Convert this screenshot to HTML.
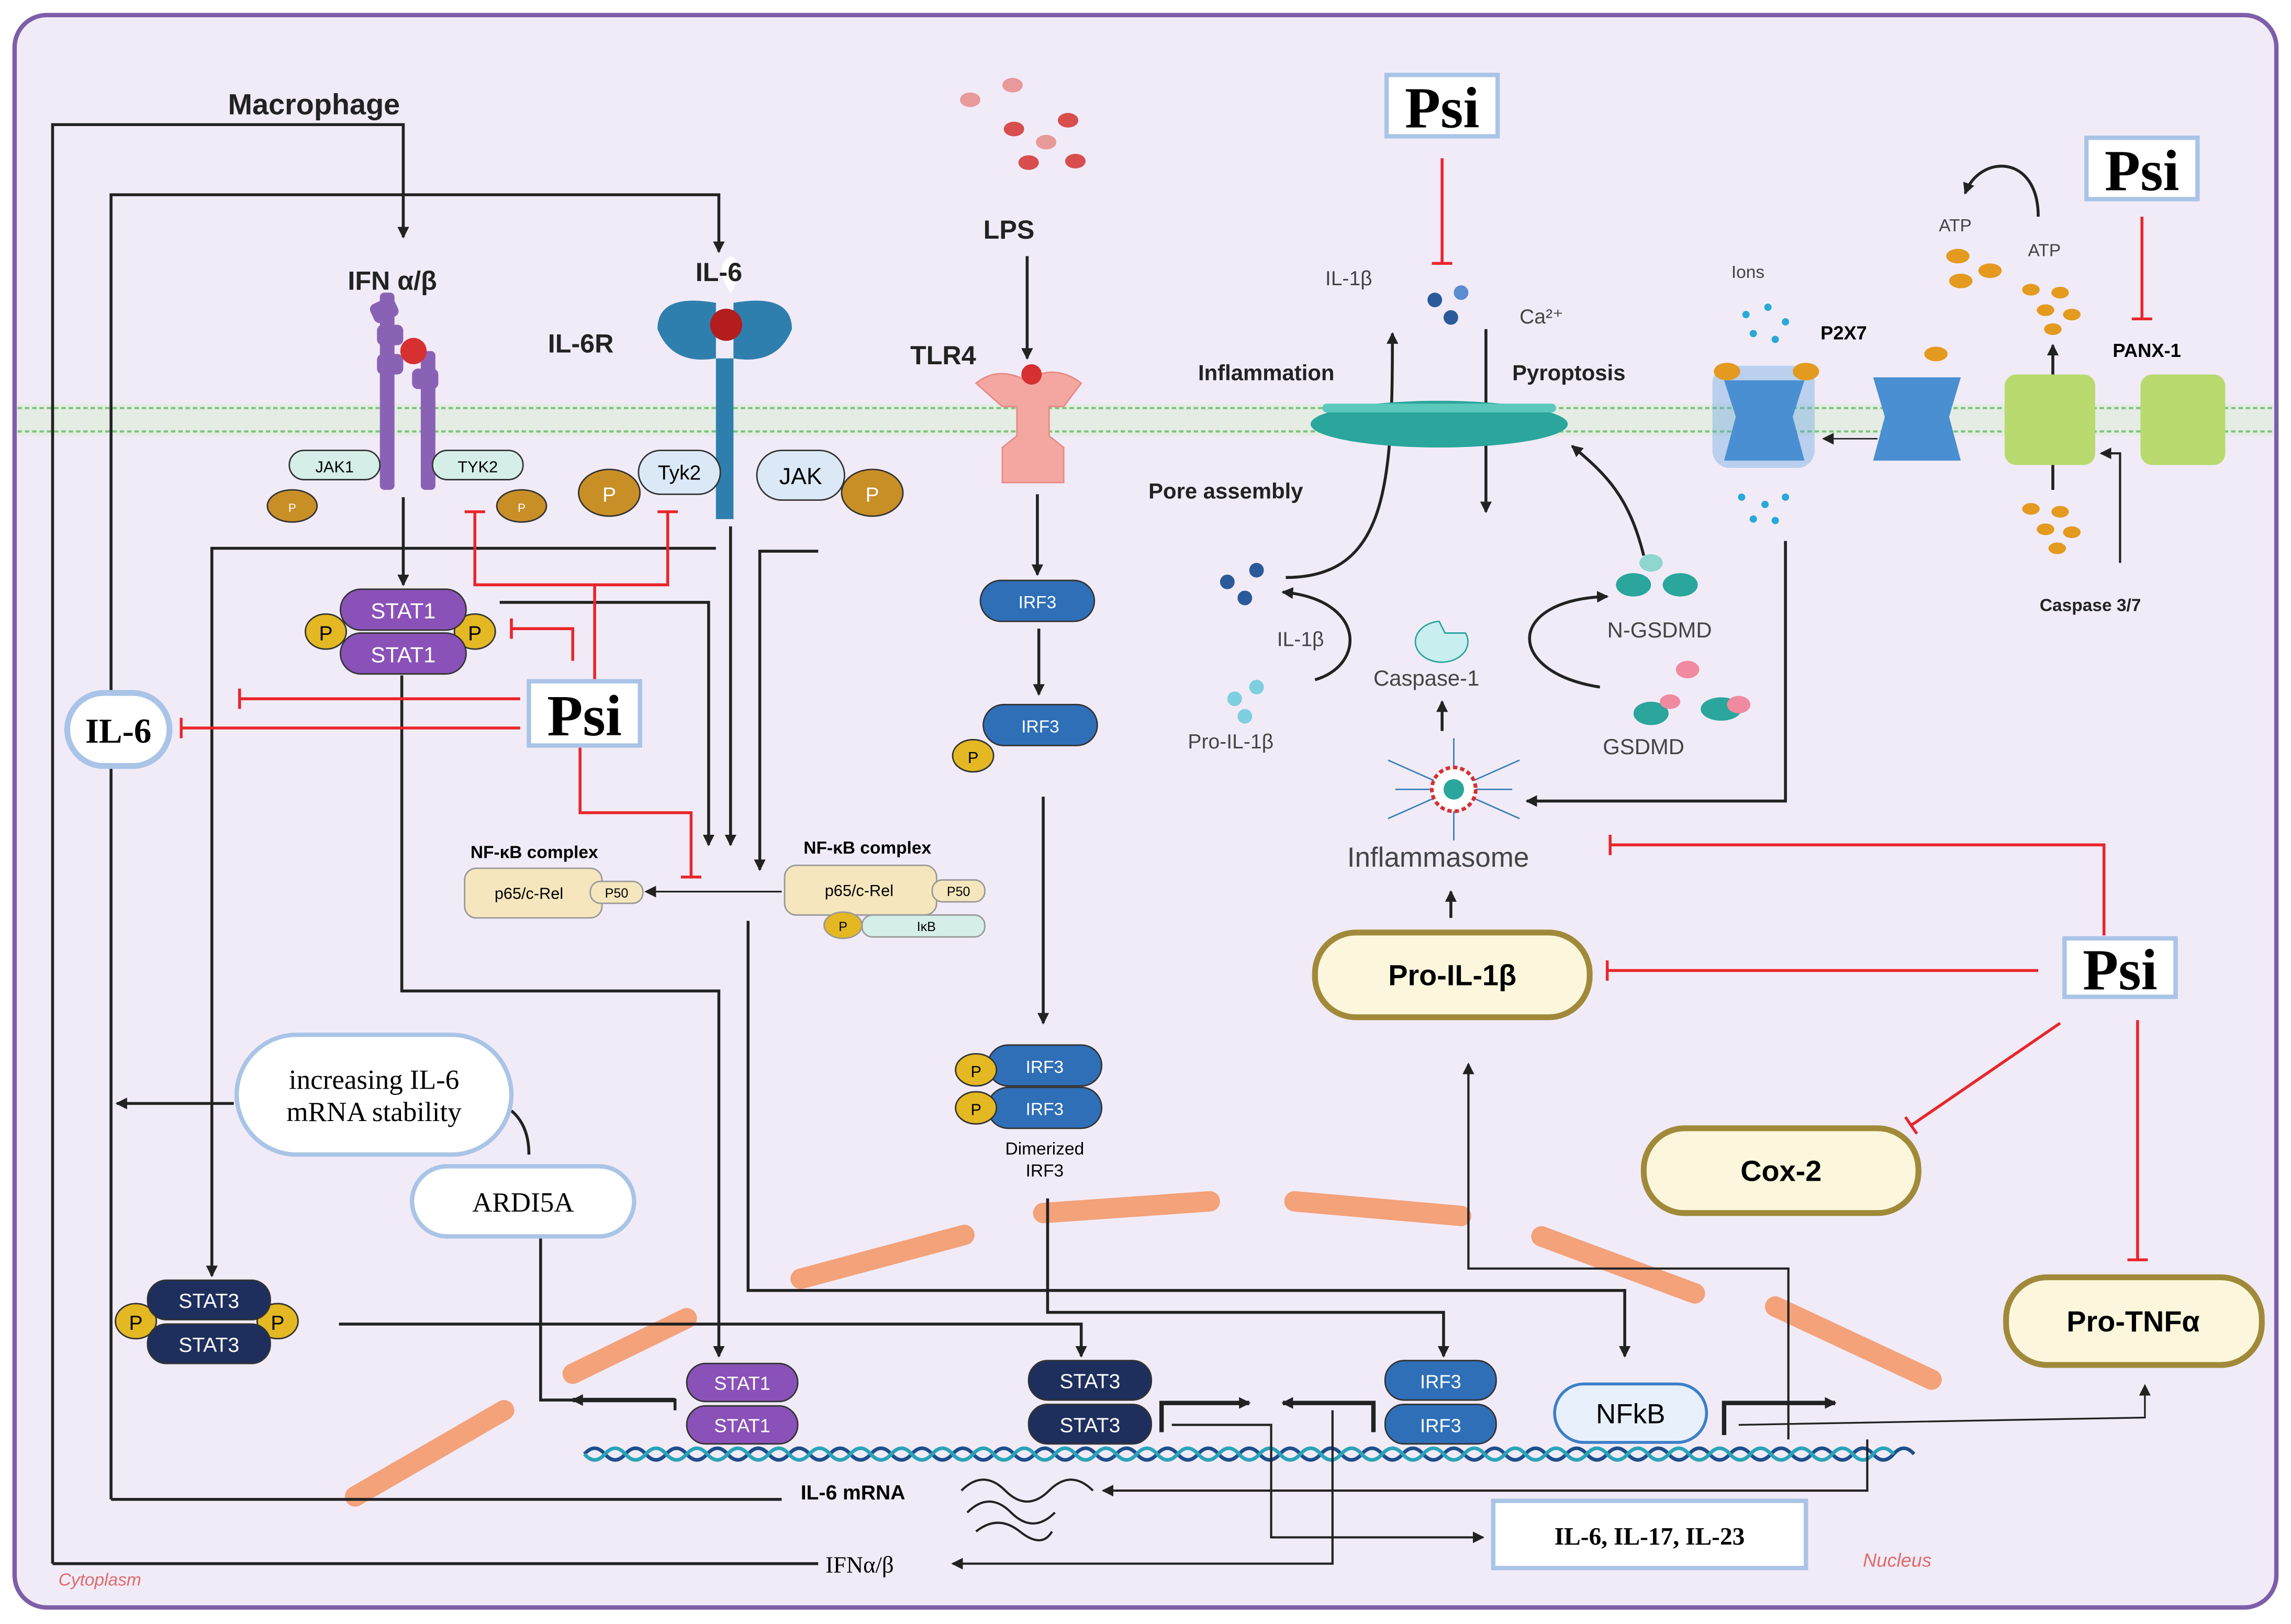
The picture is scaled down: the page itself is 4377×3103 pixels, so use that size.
<!DOCTYPE html>
<html><head><meta charset="utf-8">
<style>
html,body{margin:0;padding:0;background:#fff}
svg{display:block}
text{font-family:"Liberation Sans",sans-serif}
.s{font-family:"Liberation Serif",serif}
</style></head><body>
<svg width="4377" height="3103" viewBox="0 0 1568 1111" xmlns="http://www.w3.org/2000/svg">
<defs>
<marker id="a" markerWidth="8" markerHeight="8" refX="7" refY="4" orient="auto" markerUnits="userSpaceOnUse"><path d="M0,0 L8,4 L0,8z" fill="#222"/></marker>
<marker id="t" markerWidth="2" markerHeight="14" refX="1" refY="7" orient="auto" markerUnits="userSpaceOnUse"><rect x="0" y="0" width="2" height="14" fill="#e8262b"/></marker>
</defs>
<rect x="10" y="10" width="1548" height="1090" rx="22" fill="#f1ebf8" stroke="#7d5ea8" stroke-width="3"/>
<rect x="12" y="276" width="1544" height="22" fill="#e4ece4"/>
<line x1="12" y1="279" x2="1556" y2="279" stroke="#7cc47c" stroke-width="1.5" stroke-dasharray="3,2"/>
<line x1="12" y1="295" x2="1556" y2="295" stroke="#7cc47c" stroke-width="1.5" stroke-dasharray="3,2"/>
<text x="156" y="78" font-size="20" font-weight="bold" fill="#222">Macrophage</text>
<text x="40" y="1085" font-size="12" font-style="italic" fill="#e06a6a">Cytoplasm</text>
<text x="1275" y="1072" font-size="13" font-style="italic" fill="#e06a6a">Nucleus</text>
<g stroke-width="14" stroke-linecap="round" fill="none" stroke="#f3a27a">
<line x1="548" y1="875" x2="660" y2="845"/>
<line x1="714" y1="830" x2="828" y2="822"/>
<line x1="886" y1="822" x2="1000" y2="832"/>
<line x1="1055" y1="846" x2="1160" y2="885"/>
<line x1="1215" y1="894" x2="1322" y2="944"/>
<line x1="392" y1="940" x2="470" y2="902"/>
<line x1="243" y1="1024" x2="345" y2="965"/>
</g>
<path d="M400,995 q7,-8 14,0 t14,0 t14,0 t14,0 t14,0 t14,0 t14,0 t14,0 t14,0 t14,0 t14,0 t14,0 t14,0 t14,0 t14,0 t14,0 t14,0 t14,0 t14,0 t14,0 t14,0 t14,0 t14,0 t14,0 t14,0 t14,0 t14,0 t14,0 t14,0 t14,0 t14,0 t14,0 t14,0 t14,0 t14,0 t14,0 t14,0 t14,0 t14,0 t14,0 t14,0 t14,0 t14,0 t14,0 t14,0 t14,0 t14,0 t14,0 t14,0 t14,0 t14,0 t14,0 t14,0 t14,0 t14,0 t14,0 t14,0 t14,0 t14,0 t14,0 t14,0 t14,0 t14,0 t14,0 t14,0" stroke="#1d4f8c" stroke-width="2.5" fill="none"/>
<path d="M400,995 q7,8 14,0 t14,0 t14,0 t14,0 t14,0 t14,0 t14,0 t14,0 t14,0 t14,0 t14,0 t14,0 t14,0 t14,0 t14,0 t14,0 t14,0 t14,0 t14,0 t14,0 t14,0 t14,0 t14,0 t14,0 t14,0 t14,0 t14,0 t14,0 t14,0 t14,0 t14,0 t14,0 t14,0 t14,0 t14,0 t14,0 t14,0 t14,0 t14,0 t14,0 t14,0 t14,0 t14,0 t14,0 t14,0 t14,0 t14,0 t14,0 t14,0 t14,0 t14,0 t14,0 t14,0 t14,0 t14,0 t14,0 t14,0 t14,0 t14,0 t14,0 t14,0 t14,0 t14,0 t14,0" stroke="#2aa3b8" stroke-width="2.5" fill="none"/>
<path d="M658,1020 q15,-15 30,0 t30,0 t30,0 M662,1035 q15,-15 30,0 t30,0 M668,1048 q15,-12 30,0 t22,0" stroke="#222" stroke-width="1.5" fill="none"/>

<g stroke="#222" stroke-width="2" fill="none">
<polyline points="36,1070 36,85 276,85 276,162" marker-end="url(#a)"/>
<polyline points="76,1026 76,133 492,133 492,172" marker-end="url(#a)"/>
<line x1="535" y1="1026" x2="76" y2="1026"/>
<line x1="560" y1="1070" x2="36" y2="1070"/>
<polyline points="490,375 145,375 145,873" marker-end="url(#a)"/>
<line x1="276" y1="340" x2="276" y2="400" marker-end="url(#a)"/>
<polyline points="275,462 275,678 492,678 492,928" marker-end="url(#a)"/>
<polyline points="342,412 485,412 485,578" marker-end="url(#a)"/>
<line x1="500" y1="360" x2="500" y2="578" marker-end="url(#a)"/>
<polyline points="560,377 520,377 520,595" marker-end="url(#a)"/>
<line x1="535" y1="610" x2="442" y2="610" stroke-width="1.2" marker-end="url(#a)"/>
<polyline points="512,630 512,883 1112,883 1112,928" marker-end="url(#a)"/>
<line x1="703" y1="175" x2="703" y2="245" marker-end="url(#a)"/>
<line x1="710" y1="338" x2="710" y2="393" marker-end="url(#a)"/>
<line x1="711" y1="430" x2="711" y2="475" marker-end="url(#a)"/>
<line x1="714" y1="545" x2="714" y2="700" marker-end="url(#a)"/>
<polyline points="717,820 717,898 988,898 988,928" marker-end="url(#a)"/>
<polyline points="232,906 740,906 740,928" marker-end="url(#a)"/>
<polyline points="462,965 462,958 370,958 370,822" marker-end="url(#a)"/>
<line x1="462" y1="958" x2="392" y2="958" stroke-width="3" marker-end="url(#a)"/>
<path d="M160,755 L80,755" marker-end="url(#a)"/>
<path d="M350,760 q12,10 12,30"/>
<polyline points="795,980 795,960 855,960" stroke-width="3" marker-end="url(#a)"/>
<polyline points="940,980 940,960 878,960" stroke-width="3" marker-end="url(#a)"/>
<polyline points="1180,982 1180,960 1256,960" stroke-width="3" marker-end="url(#a)"/>
<polyline points="802,975 870,975 870,1052 1015,1052" stroke-width="1.5" marker-end="url(#a)"/>
<polyline points="912,965 912,1070 652,1070" stroke-width="1.5" marker-end="url(#a)"/>
<polyline points="1278,985 1278,1020 755,1020" stroke-width="1.5" marker-end="url(#a)"/>
<polyline points="1190,975 1468,970 1468,948" stroke-width="1.2" marker-end="url(#a)"/>
<polyline points="1224,985 1224,868 1005,868 1005,728" stroke-width="1.5" marker-end="url(#a)"/>
<line x1="993" y1="628" x2="993" y2="610" marker-end="url(#a)"/>
<line x1="987" y1="500" x2="987" y2="480" marker-end="url(#a)"/>
<polyline points="1222,370 1222,548 1045,548" marker-end="url(#a)"/>
<path d="M880,395 C950,395 953,330 953,228" marker-end="url(#a)"/>
<line x1="1017" y1="225" x2="1017" y2="350" marker-end="url(#a)"/>
<path d="M1125,380 C1115,340 1100,325 1076,305" marker-end="url(#a)"/>
<path d="M1095,470 C1030,460 1030,410 1100,408" marker-end="url(#a)"/>
<path d="M900,465 C935,455 935,410 878,405" marker-end="url(#a)"/>
<line x1="1285" y1="300" x2="1248" y2="300" stroke-width="1" marker-end="url(#a)"/>
<line x1="1405" y1="335" x2="1405" y2="236" marker-end="url(#a)"/>
<polyline points="1451,385 1451,310 1438,310" stroke-width="1.5" marker-end="url(#a)"/>
<path d="M1395,148 C1395,105 1355,105 1345,132" marker-end="url(#a)"/>
</g>
<g stroke="#e8262b" stroke-width="2" fill="none">
<polyline points="407,465 407,400 325,400 325,350" marker-end="url(#t)"/>
<polyline points="407,400 457,400 457,350" marker-end="url(#t)"/>
<polyline points="392,452 392,430 350,430" marker-end="url(#t)"/>
<line x1="356" y1="478" x2="164" y2="478" marker-end="url(#t)"/>
<line x1="356" y1="498" x2="124" y2="498" marker-end="url(#t)"/>
<polyline points="397,510 397,556 473,556 473,600" marker-end="url(#t)"/>
<line x1="987" y1="108" x2="987" y2="180" marker-end="url(#t)"/>
<line x1="1466" y1="148" x2="1466" y2="218" marker-end="url(#t)"/>
<polyline points="1440,640 1440,578 1102,578" marker-end="url(#t)"/>
<line x1="1395" y1="664" x2="1100" y2="664" marker-end="url(#t)"/>
<line x1="1410" y1="700" x2="1308" y2="770" marker-end="url(#t)"/>
<line x1="1463" y1="698" x2="1463" y2="862" marker-end="url(#t)"/>
</g>

<g fill="#8a62b5">
<rect x="260" y="200" width="10" height="135" rx="3"/><rect x="288" y="240" width="10" height="95" rx="3"/>
<rect x="254" y="205" width="18" height="14" rx="4" transform="rotate(-25 263 212)"/>
<rect x="258" y="222" width="18" height="14" rx="4"/><rect x="258" y="242" width="18" height="14" rx="4"/><rect x="282" y="252" width="18" height="14" rx="4"/>
</g>
<circle cx="283" cy="240" r="9" fill="#d63030"/>
<path d="M450,225 q0,-25 40,-18 l0,148 h12 l0,-148 q40,-7 40,18 q-10,25 -40,20 h-12 q-30,5 -40,-20z" fill="#2f7fae"/>
<path d="M500,200 q-12,-18 0,-25 q12,7 0,25" fill="#fff"/>
<circle cx="497" cy="222" r="11" fill="#b31d1d"/>
<path d="M668,262 q15,-12 34,-2 q20,-12 38,2 l-12,16 h-10 v20 l10,8 v24 h-42 v-24 l10,-8 v-20 h-10z" fill="#f4a7a1" stroke="#e88a84"/>
<circle cx="706" cy="256" r="7" fill="#d63030"/>
<ellipse cx="985" cy="290" rx="88" ry="16" fill="#2aa69c"/>
<rect x="905" y="276" width="160" height="6" rx="3" fill="#5cc8bd"/>
<rect x="1172" y="250" width="70" height="70" rx="12" fill="#6aa8de" opacity=".4"/>
<path d="M1180,260 h55 l-8,25 l8,30 h-55 l8,-30z" fill="#4a8fd1"/>
<ellipse cx="1182" cy="254" rx="9" ry="6" fill="#e39a1e"/><ellipse cx="1236" cy="254" rx="9" ry="6" fill="#e39a1e"/>
<path d="M1282,258 h60 l-8,27 l8,30 h-60 l8,-30z" fill="#4a8fd1"/>
<rect x="1372" y="256" width="62" height="62" rx="8" fill="#b8da6e"/><rect x="1465" y="256" width="58" height="62" rx="8" fill="#b8da6e"/>
<g fill="#d84d4d"><ellipse cx="664" cy="68" rx="7" ry="5" fill="#e89a9a"/><ellipse cx="693" cy="58" rx="7" ry="5" fill="#e89a9a"/><ellipse cx="694" cy="88" rx="7" ry="5"/><ellipse cx="731" cy="82" rx="7" ry="5"/><ellipse cx="716" cy="97" rx="7" ry="5" fill="#e89a9a"/><ellipse cx="704" cy="111" rx="7" ry="5"/><ellipse cx="736" cy="110" rx="7" ry="5"/></g>
<g fill="#2a5a9a"><circle cx="982" cy="205" r="5"/><circle cx="1000" cy="200" r="5" fill="#5b8ccf"/><circle cx="993" cy="217" r="5"/><circle cx="840" cy="398" r="5"/><circle cx="860" cy="390" r="5"/><circle cx="852" cy="409" r="5"/></g>
<g fill="#7ecfe0"><circle cx="845" cy="478" r="5"/><circle cx="860" cy="470" r="5"/><circle cx="852" cy="490" r="5"/></g>
<g fill="#2aa9d6"><circle cx="1195" cy="215" r="2.5"/><circle cx="1210" cy="210" r="2.5"/><circle cx="1222" cy="220" r="2.5"/><circle cx="1200" cy="228" r="2.5"/><circle cx="1215" cy="232" r="2.5"/><circle cx="1192" cy="340" r="2.5"/><circle cx="1208" cy="345" r="2.5"/><circle cx="1222" cy="340" r="2.5"/><circle cx="1200" cy="355" r="2.5"/><circle cx="1215" cy="356" r="2.5"/></g>
<g fill="#e39a1e"><ellipse cx="1340" cy="175" rx="8" ry="5"/><ellipse cx="1362" cy="185" rx="8" ry="5"/><ellipse cx="1342" cy="192" rx="8" ry="5"/><ellipse cx="1325" cy="242" rx="8" ry="5"/><ellipse cx="1390" cy="198" rx="6" ry="4"/><ellipse cx="1410" cy="200" rx="6" ry="4"/><ellipse cx="1400" cy="212" rx="6" ry="4"/><ellipse cx="1418" cy="215" rx="6" ry="4"/><ellipse cx="1405" cy="225" rx="6" ry="4"/><ellipse cx="1390" cy="348" rx="6" ry="4"/><ellipse cx="1410" cy="350" rx="6" ry="4"/><ellipse cx="1400" cy="362" rx="6" ry="4"/><ellipse cx="1418" cy="364" rx="6" ry="4"/><ellipse cx="1408" cy="375" rx="6" ry="4"/></g>
<g fill="#2aa69c"><ellipse cx="1118" cy="400" rx="12" ry="8"/><ellipse cx="1150" cy="400" rx="12" ry="8"/><ellipse cx="1130" cy="385" rx="8" ry="6" fill="#8fd6cf"/><ellipse cx="1130" cy="488" rx="12" ry="8"/><ellipse cx="1178" cy="485" rx="14" ry="8"/></g>
<g fill="#f08aa0"><ellipse cx="1155" cy="458" rx="8" ry="6"/><ellipse cx="1190" cy="482" rx="8" ry="6"/><ellipse cx="1143" cy="480" rx="7" ry="5"/></g>
<path d="M985,425 a18,14 0 1,0 18,8 l-14,0z" fill="#c9eef0" stroke="#2aa69c"/>
<g stroke="#3a7fb5" stroke-width="1"><line x1="950" y1="520" x2="1040" y2="560"/><line x1="950" y1="560" x2="1040" y2="520"/><line x1="995" y1="505" x2="995" y2="575"/><line x1="955" y1="540" x2="1035" y2="540"/></g>
<circle cx="995" cy="540" r="15" fill="#fff" stroke="#d63030" stroke-width="2.5" stroke-dasharray="3,2"/>
<circle cx="995" cy="540" r="7" fill="#2aa69c"/>

<rect x="198" y="308" width="62" height="20" rx="10" fill="#d5efe8" stroke="#333"/><text x="229" y="323" font-size="11" text-anchor="middle">JAK1</text>
<rect x="296" y="308" width="62" height="20" rx="10" fill="#d5efe8" stroke="#333"/><text x="327" y="323" font-size="11" text-anchor="middle">TYK2</text>
<ellipse cx="200" cy="346" rx="17" ry="11" fill="#c98f27" stroke="#333"/><text x="200" y="350" font-size="8" text-anchor="middle" fill="#fff">P</text>
<ellipse cx="357" cy="346" rx="17" ry="11" fill="#c98f27" stroke="#333"/><text x="357" y="350" font-size="8" text-anchor="middle" fill="#fff">P</text>
<ellipse cx="417" cy="337" rx="21" ry="16" fill="#c98f27" stroke="#333"/><text x="417" y="343" font-size="14" text-anchor="middle" fill="#fff">P</text>
<rect x="437" y="308" width="56" height="30" rx="15" fill="#dbe9f7" stroke="#333"/><text x="465" y="328" font-size="14" text-anchor="middle">Tyk2</text>
<rect x="518" y="308" width="60" height="34" rx="17" fill="#dbe9f7" stroke="#333"/><text x="548" y="331" font-size="16" text-anchor="middle">JAK</text>
<ellipse cx="597" cy="337" rx="21" ry="16" fill="#c98f27" stroke="#333"/><text x="597" y="343" font-size="14" text-anchor="middle" fill="#fff">P</text>
<ellipse cx="223" cy="432" rx="14" ry="12" fill="#e3b822" stroke="#333"/><text x="223" y="438" font-size="14" text-anchor="middle">P</text>
<ellipse cx="325" cy="432" rx="14" ry="12" fill="#e3b822" stroke="#333"/><text x="325" y="438" font-size="14" text-anchor="middle">P</text>
<rect x="233" y="403" width="86" height="28" rx="14" fill="#8a52b8" stroke="#333"/><text x="276" y="423" font-size="15" fill="#fff" text-anchor="middle">STAT1</text>
<rect x="233" y="433" width="86" height="28" rx="14" fill="#8a52b8" stroke="#333"/><text x="276" y="453" font-size="15" fill="#fff" text-anchor="middle">STAT1</text>
<ellipse cx="93" cy="904" rx="14" ry="12" fill="#e3b822" stroke="#333"/><text x="93" y="910" font-size="14" text-anchor="middle">P</text>
<ellipse cx="190" cy="904" rx="14" ry="12" fill="#e3b822" stroke="#333"/><text x="190" y="910" font-size="14" text-anchor="middle">P</text>
<rect x="101" y="876" width="84" height="27" rx="13" fill="#1e2f5e" stroke="#333"/><text x="143" y="895" font-size="14" fill="#fff" text-anchor="middle">STAT3</text>
<rect x="101" y="906" width="84" height="27" rx="13" fill="#1e2f5e" stroke="#333"/><text x="143" y="925" font-size="14" fill="#fff" text-anchor="middle">STAT3</text>
<rect x="470" y="933" width="76" height="26" rx="13" fill="#8a52b8" stroke="#333"/><text x="508" y="951" font-size="13" fill="#fff" text-anchor="middle">STAT1</text>
<rect x="470" y="962" width="76" height="26" rx="13" fill="#8a52b8" stroke="#333"/><text x="508" y="980" font-size="13" fill="#fff" text-anchor="middle">STAT1</text>
<rect x="704" y="931" width="84" height="27" rx="13" fill="#1e2f5e" stroke="#333"/><text x="746" y="950" font-size="14" fill="#fff" text-anchor="middle">STAT3</text>
<rect x="704" y="961" width="84" height="27" rx="13" fill="#1e2f5e" stroke="#333"/><text x="746" y="980" font-size="14" fill="#fff" text-anchor="middle">STAT3</text>
<rect x="948" y="931" width="76" height="27" rx="13" fill="#2f6fb8" stroke="#333"/><text x="986" y="950" font-size="13" fill="#fff" text-anchor="middle">IRF3</text>
<rect x="948" y="961" width="76" height="27" rx="13" fill="#2f6fb8" stroke="#333"/><text x="986" y="980" font-size="13" fill="#fff" text-anchor="middle">IRF3</text>
<rect x="1064" y="947" width="104" height="40" rx="20" fill="#e8f0fb" stroke="#3b7fc8" stroke-width="2"/><text x="1116" y="974" font-size="19" text-anchor="middle">NFkB</text>
<rect x="671" y="397" width="78" height="28" rx="14" fill="#2f6fb8" stroke="#333"/><text x="710" y="416" font-size="12" fill="#fff" text-anchor="middle">IRF3</text>
<rect x="673" y="482" width="78" height="28" rx="14" fill="#2f6fb8" stroke="#333"/><text x="712" y="501" font-size="12" fill="#fff" text-anchor="middle">IRF3</text>
<ellipse cx="666" cy="517" rx="14" ry="11" fill="#e3b822" stroke="#333"/><text x="666" y="522" font-size="11" text-anchor="middle">P</text>
<rect x="676" y="715" width="78" height="28" rx="14" fill="#2f6fb8" stroke="#333"/><text x="715" y="734" font-size="12" fill="#fff" text-anchor="middle">IRF3</text>
<rect x="676" y="744" width="78" height="28" rx="14" fill="#2f6fb8" stroke="#333"/><text x="715" y="763" font-size="12" fill="#fff" text-anchor="middle">IRF3</text>
<ellipse cx="668" cy="732" rx="14" ry="11" fill="#e3b822" stroke="#333"/><text x="668" y="737" font-size="11" text-anchor="middle">P</text>
<ellipse cx="668" cy="758" rx="14" ry="11" fill="#e3b822" stroke="#333"/><text x="668" y="763" font-size="11" text-anchor="middle">P</text>
<text x="715" y="790" font-size="12" text-anchor="middle">Dimerized</text><text x="715" y="805" font-size="12" text-anchor="middle">IRF3</text>
<text x="322" y="587" font-size="12" font-weight="bold">NF-κB complex</text>
<rect x="318" y="594" width="94" height="34" rx="8" fill="#f5e6bd" stroke="#999"/><text x="362" y="615" font-size="11" text-anchor="middle">p65/c-Rel</text>
<rect x="404" y="603" width="36" height="15" rx="7" fill="#f5e6bd" stroke="#999"/><text x="422" y="614" font-size="9" text-anchor="middle">P50</text>
<text x="550" y="584" font-size="12" font-weight="bold">NF-κB complex</text>
<rect x="537" y="592" width="104" height="34" rx="8" fill="#f5e6bd" stroke="#999"/><text x="588" y="613" font-size="11" text-anchor="middle">p65/c-Rel</text>
<rect x="638" y="602" width="36" height="15" rx="7" fill="#f5e6bd" stroke="#999"/><text x="656" y="613" font-size="9" text-anchor="middle">P50</text>
<rect x="590" y="626" width="84" height="15" rx="7" fill="#d5efe8" stroke="#999"/><text x="634" y="637" font-size="9" text-anchor="middle">IκB</text>
<ellipse cx="577" cy="633" rx="13" ry="9" fill="#e3b822" stroke="#999"/><text x="577" y="637" font-size="9" text-anchor="middle">P</text>
<rect x="46" y="474" width="70" height="50" rx="25" fill="#fff" stroke="#a9c4e6" stroke-width="4"/><text x="81" y="508" font-size="24" font-weight="bold" class="s" text-anchor="middle">IL-6</text>
<rect x="162" y="708" width="188" height="82" rx="41" fill="#fff" stroke="#a9c4e6" stroke-width="3"/>
<text x="256" y="745" font-size="19" class="s" text-anchor="middle">increasing IL-6</text><text x="256" y="767" font-size="19" class="s" text-anchor="middle">mRNA stability</text>
<rect x="282" y="798" width="152" height="48" rx="24" fill="#fff" stroke="#a9c4e6" stroke-width="3"/><text x="358" y="829" font-size="19" class="s" text-anchor="middle">ARDI5A</text>
<rect x="1022" y="1027" width="214" height="46" fill="#fff" stroke="#a9c4e6" stroke-width="3"/><text x="1129" y="1057" font-size="17" font-weight="bold" class="s" text-anchor="middle">IL-6, IL-17, IL-23</text>
<g class="s" font-weight="bold" text-anchor="middle">
<rect x="362" y="466" width="76" height="44" fill="#fff" stroke="#a9c4e6" stroke-width="3"/><text x="400" y="503" font-size="40" class="s">Psi</text>
<rect x="949" y="51" width="76" height="42" fill="#fff" stroke="#a9c4e6" stroke-width="3"/><text x="987" y="87" font-size="40" class="s">Psi</text>
<rect x="1428" y="94" width="76" height="42" fill="#fff" stroke="#a9c4e6" stroke-width="3"/><text x="1466" y="130" font-size="40" class="s">Psi</text>
<rect x="1413" y="642" width="76" height="40" fill="#fff" stroke="#a9c4e6" stroke-width="3"/><text x="1451" y="677" font-size="40" class="s">Psi</text>
</g>
<g stroke="#a08a3a" stroke-width="4" fill="#fcf7dc">
<rect x="900" y="638" width="188" height="58" rx="28"/>
<rect x="1125" y="772" width="188" height="58" rx="28"/>
<rect x="1373" y="874" width="175" height="60" rx="28"/>
</g>
<g font-weight="bold" font-size="20" text-anchor="middle">
<text x="994" y="674">Pro-IL-1β</text><text x="1219" y="808">Cox-2</text><text x="1460" y="911">Pro-TNFα</text>
</g>
<g font-size="18" font-weight="bold" fill="#222">
<text x="238" y="198">IFN α/β</text><text x="476" y="192">IL-6</text><text x="375" y="241">IL-6R</text>
<text x="673" y="163">LPS</text><text x="623" y="249">TLR4</text>
</g>
<g font-size="15" font-weight="bold" fill="#222">
<text x="820" y="260">Inflammation</text><text x="1035" y="260">Pyroptosis</text><text x="786" y="341">Pore assembly</text>
</g>
<g font-size="14" fill="#444">
<text x="907" y="195">IL-1β</text><text x="1040" y="221">Ca²⁺</text>
<text x="874" y="442">IL-1β</text><text x="813" y="512">Pro-IL-1β</text>
<text x="940" y="469" font-size="15">Caspase-1</text>
<text x="1100" y="436" font-size="15">N-GSDMD</text><text x="1097" y="516" font-size="15">GSDMD</text>
<text x="922" y="593" font-size="19">Inflammasome</text>
<text x="1185" y="190" font-size="12">Ions</text>
<text x="1327" y="158" font-size="12">ATP</text><text x="1388" y="175" font-size="12">ATP</text>
<text x="1396" y="418" font-size="12" font-weight="bold" fill="#222">Caspase 3/7</text>
</g>
<text x="1246" y="232" font-size="13" font-weight="bold">P2X7</text>
<text x="1446" y="244" font-size="13" font-weight="bold">PANX-1</text>
<text x="548" y="1026" font-size="14" font-weight="bold">IL-6 mRNA</text>
<text x="565" y="1076" font-size="16" class="s">IFNα/β</text>
</svg>
</body></html>
